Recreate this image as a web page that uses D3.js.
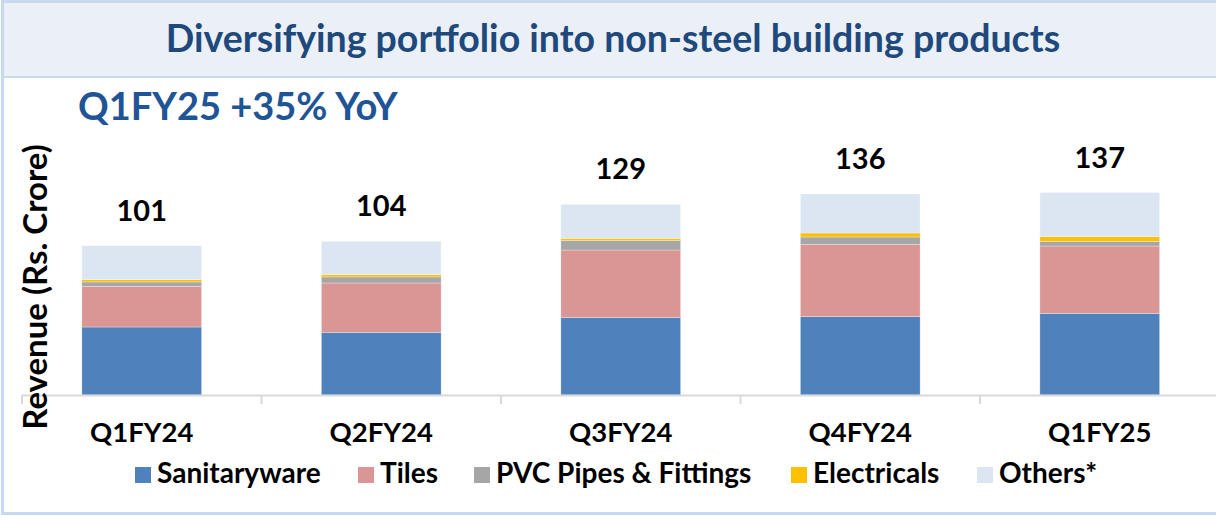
<!DOCTYPE html>
<html>
<head>
<meta charset="utf-8">
<script src="https://cdn.jsdelivr.net/npm/d3@7"></script>
<style>
  body { margin: 0; background: #fff; }
  svg { display: block; font-family: Lato, "Open Sans", sans-serif; }
</style>
</head>
<body>
<div id="chart"></div>
<script>
var W = 1216, H = 520;

// data
var quarters = ["Q1FY24", "Q2FY24", "Q3FY24", "Q4FY24", "Q1FY25"];
var seriesNames = ["Sanitaryware", "Tiles", "PVC Pipes & Fittings", "Electricals", "Others*"];
var sanitaryware = [46, 42.4, 52.5, 53, 55.2];
var tiles = [27.5, 33.4, 45.6, 48.8, 45.6];
var pvc = [3, 4.1, 6.5, 5.1, 3.1];
var electricals = [1.5, 1.6, 1.4, 2.7, 3.2];
var others = [23, 22.5, 23, 26.4, 29.9];
var totals = [101, 104, 129, 136, 137];
var colors = ["#4f81bd", "#d99694", "#a6a6a6", "#ffc000", "#dce6f2"];

var rows = quarters.map(function(q, i) {
  return {
    quarter: q,
    "Sanitaryware": sanitaryware[i],
    "Tiles": tiles[i],
    "PVC Pipes & Fittings": pvc[i],
    "Electricals": electricals[i],
    "Others*": others[i],
    total: totals[i]
  };
});

var svg = d3.select("#chart").append("svg")
  .attr("width", W).attr("height", H);

// outer frame
svg.append("rect")
  .attr("x", 2.5).attr("y", 1.5).attr("width", W + 10).attr("height", 512)
  .attr("fill", "#fff").attr("stroke", "#c6d9f1").attr("stroke-width", 3);

// header box
svg.append("rect")
  .attr("x", 3).attr("y", 2).attr("width", W + 10).attr("height", 75)
  .attr("fill", "#eaf0f6").attr("stroke", "#c6d9f1").attr("stroke-width", 2);

svg.append("text")
  .attr("x", 613).attr("y", 52)
  .attr("text-anchor", "middle")
  .attr("font-size", 37.5).attr("font-weight", "bold")
  .attr("fill", "#1f497d")
  .text("Diversifying portfolio into non-steel building products");

svg.append("text")
  .attr("x", 78).attr("y", 120)
  .attr("font-size", 38).attr("font-weight", "bold")
  .attr("fill", "#1f5497")
  .text("Q1FY25 +35% YoY");

// scales
var x = d3.scaleBand().domain(quarters).range([22, 1219.5]).paddingInner(0.5).paddingOuter(0.25);
var xTicks = d3.scaleBand().domain(quarters).range([22, 1219.5]);
var y = d3.scaleLinear().domain([0, 160]).range([395, 395 - 160 * 1.478]);

var stack = d3.stack().keys(seriesNames);
var layers = stack(rows);

svg.append("g")
  .selectAll("g")
  .data(layers)
  .join("g")
  .attr("fill", function(d, i) { return colors[i]; })
  .selectAll("rect")
  .data(function(d) { return d; })
  .join("rect")
  .attr("x", function(d) { return x(d.data.quarter); })
  .attr("y", function(d) { return y(d[1]); })
  .attr("width", x.bandwidth())
  .attr("height", function(d) { return y(d[0]) - y(d[1]); })
  .attr("stroke", "#ffffff")
  .attr("stroke-opacity", 0.5)
  .attr("stroke-width", 0.6);

// x axis line + ticks
var axisG = svg.append("g");
axisG.append("line")
  .attr("x1", 22).attr("x2", 1219.5).attr("y1", 395.5).attr("y2", 395.5)
  .attr("stroke", "#d9d9d9").attr("stroke-width", 2);
axisG.selectAll("line.tick")
  .data(quarters)
  .join("line")
  .attr("class", "tick")
  .attr("x1", function(d) { return xTicks(d); })
  .attr("x2", function(d) { return xTicks(d); })
  .attr("y1", 395).attr("y2", 404)
  .attr("stroke", "#d9d9d9").attr("stroke-width", 2);

axisG.selectAll("text")
  .data(quarters)
  .join("text")
  .attr("x", function(d) { return x(d) + x.bandwidth() / 2; })
  .attr("y", 442)
  .attr("text-anchor", "middle")
  .attr("font-size", 27.5).attr("font-weight", "bold")
  .attr("fill", "#000")
  .text(function(d) { return d; });

// total labels
svg.append("g")
  .selectAll("text")
  .data(rows)
  .join("text")
  .attr("x", function(d) { return x(d.quarter) + x.bandwidth() / 2; })
  .attr("y", function(d) { return y(d.total) - 25; })
  .attr("text-anchor", "middle")
  .attr("font-size", 29).attr("font-weight", "bold")
  .attr("fill", "#000")
  .text(function(d) { return d.total; });

// y axis title
svg.append("text")
  .attr("transform", "translate(47,287) rotate(-90)")
  .attr("text-anchor", "middle")
  .attr("font-size", 33).attr("font-weight", "bold")
  .attr("fill", "#000")
  .text("Revenue (Rs. Crore)");

// legend
var legendX = [135, 358, 474, 791, 977];
var legend = svg.append("g")
  .selectAll("g")
  .data(seriesNames)
  .join("g")
  .attr("transform", function(d, i) { return "translate(" + legendX[i] + ",467)"; });
legend.append("rect")
  .attr("width", 16).attr("height", 16)
  .attr("fill", function(d, i) { return colors[i]; });
legend.append("text")
  .attr("x", 22).attr("y", 16)
  .attr("font-size", 28).attr("font-weight", "bold")
  .attr("fill", "#000")
  .text(function(d) { return d; });
</script>
</body>
</html>
